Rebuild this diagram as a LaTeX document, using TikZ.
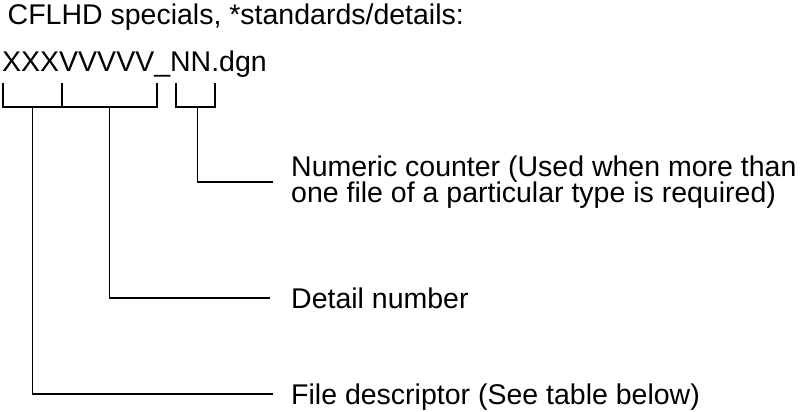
\documentclass[tikz,border=0pt]{standalone}
\usepackage{fontspec}
\setmainfont{Liberation Sans}
\begin{document}
\begin{tikzpicture}[x=1pt,y=-1pt,
  lbl/.style={inner sep=0pt,anchor=base west,font=\fontsize{28.5}{24}\selectfont},
  brk/.style={line width=1.4pt,line cap=butt,line join=miter}]
\useasboundingbox (0,0) rectangle (809,412);
% texts
\node[lbl] (title) at (7.5,25) {CFLHD specials, *standards/details:};
\node[lbl] (fname) at (2,72) {XXXVVVVV\_NN.dgn};
\node[lbl] (num1) at (291,176) {Numeric counter (Used when more than};
\node[lbl] (num2) at (291,202) {one file of a particular type is required)};
\node[lbl] (detail) at (291,308) {Detail number};
\node[lbl] (file) at (291,404) {File descriptor (See table below)};
% bracket anchors
\coordinate (xs) at (32.5,107);
\coordinate (vs) at (109.5,107);
\coordinate (ns) at (197.5,107);
\coordinate (ne) at (273,182);
\coordinate (ve) at (270,298);
\coordinate (xe) at (273,394);
% brackets under the file name
\draw[brk] (3,83) |- (62,107) -- (62,83);
\draw[brk] (62,107) -| (157,83);
\draw[brk] (176,83) |- (215,107) -- (215,83);
% leaders
\draw[brk] (ns) |- (ne);
\draw[brk] (vs) |- (ve);
\draw[brk] (xs) |- (xe);
\end{tikzpicture}
\end{document}
